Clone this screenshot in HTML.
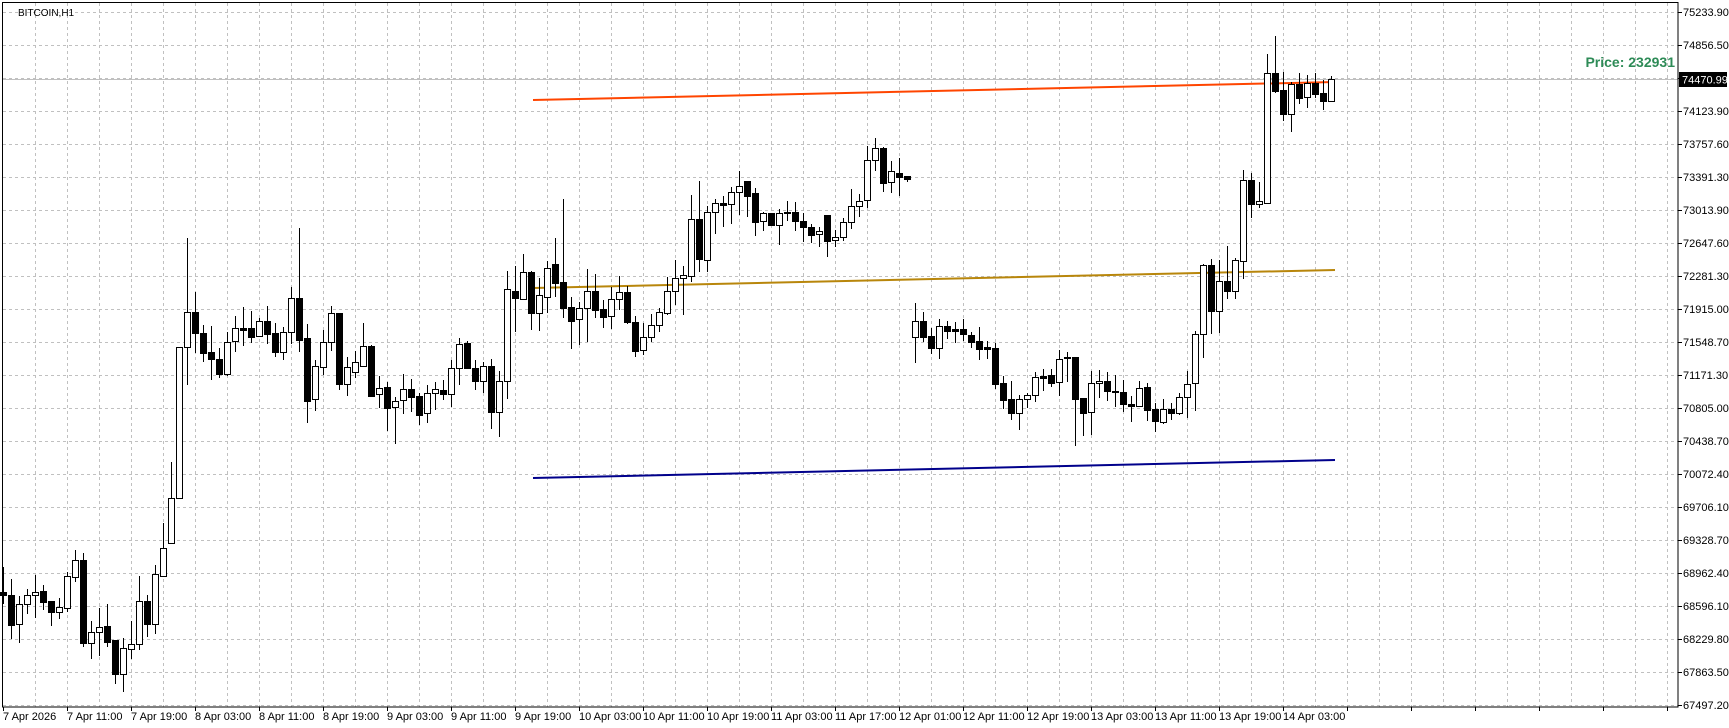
<!DOCTYPE html>
<html><head><meta charset="utf-8"><style>
html,body{margin:0;padding:0;background:#fff;}
svg{display:block;}
text{font-family:"Liberation Sans","DejaVu Sans",sans-serif;}
</style></head><body>
<svg id="c" width="1729" height="728" xmlns="http://www.w3.org/2000/svg" shape-rendering="crispEdges">
<g id="grid"></g>
<line x1="3" y1="79.5" x2="1678" y2="79.5" stroke="#c0c0c0" stroke-width="1"/>
<g id="lines" shape-rendering="auto">
<line x1="533" y1="100" x2="1335" y2="82" stroke="#ff4500" stroke-width="2"/>
<line x1="533" y1="288" x2="1335" y2="270" stroke="#b8860b" stroke-width="2"/>
<line x1="533" y1="478" x2="1335" y2="460" stroke="#00008b" stroke-width="2"/>
</g>
<g id="candles"></g>
<rect x="2.5" y="2.5" width="1675.5" height="704.5" fill="none" stroke="#000" stroke-width="1"/>
<text x="18" y="16" font-size="10" fill="#000">BITCOIN,H1</text>
<text x="1675" y="67" font-size="14" font-weight="bold" fill="#2e8b57" text-anchor="end">Price: 232931</text>
<g id="plab" font-size="11" fill="#000">
<text x="1683" y="16">75233.90</text>
<text x="1683" y="49">74856.50</text>
<text x="1683" y="115">74123.90</text>
<text x="1683" y="148">73757.60</text>
<text x="1683" y="181">73391.30</text>
<text x="1683" y="214">73013.90</text>
<text x="1683" y="247">72647.60</text>
<text x="1683" y="280">72281.30</text>
<text x="1683" y="313">71915.00</text>
<text x="1683" y="346">71548.70</text>
<text x="1683" y="379">71171.30</text>
<text x="1683" y="412">70805.00</text>
<text x="1683" y="445">70438.70</text>
<text x="1683" y="478">70072.40</text>
<text x="1683" y="511">69706.10</text>
<text x="1683" y="544">69328.70</text>
<text x="1683" y="577">68962.40</text>
<text x="1683" y="610">68596.10</text>
<text x="1683" y="643">68229.80</text>
<text x="1683" y="676">67863.50</text>
<text x="1683" y="709">67497.20</text>
</g>
<rect x="1679" y="72" width="48" height="15" fill="#000"/>
<text x="1682" y="83.5" font-size="11" fill="#fff">74470.99</text>
<g id="tlab" font-size="11" fill="#000">
<text x="3" y="720">7 Apr 2026</text>
<text x="67" y="720">7 Apr 11:00</text>
<text x="131" y="720">7 Apr 19:00</text>
<text x="195" y="720">8 Apr 03:00</text>
<text x="259" y="720">8 Apr 11:00</text>
<text x="323" y="720">8 Apr 19:00</text>
<text x="387" y="720">9 Apr 03:00</text>
<text x="451" y="720">9 Apr 11:00</text>
<text x="515" y="720">9 Apr 19:00</text>
<text x="579" y="720">10 Apr 03:00</text>
<text x="643" y="720">10 Apr 11:00</text>
<text x="707" y="720">10 Apr 19:00</text>
<text x="771" y="720">11 Apr 03:00</text>
<text x="835" y="720">11 Apr 17:00</text>
<text x="899" y="720">12 Apr 01:00</text>
<text x="963" y="720">12 Apr 11:00</text>
<text x="1027" y="720">12 Apr 19:00</text>
<text x="1091" y="720">13 Apr 03:00</text>
<text x="1155" y="720">13 Apr 11:00</text>
<text x="1219" y="720">13 Apr 19:00</text>
<text x="1283" y="720">14 Apr 03:00</text>
</g>
<g id="ticks"></g>
</svg>
<script>
var NS="http://www.w3.org/2000/svg";
function el(p,t,a){var e=document.createElementNS(NS,t);for(var k in a)e.setAttribute(k,a[k]);p.appendChild(e);return e;}
var g=document.getElementById("grid"),tk=document.getElementById("ticks");
for(var x=35;x<1678;x+=32)el(g,"line",{x1:x+.5,y1:3,x2:x+.5,y2:707,stroke:"#c0c0c0","stroke-dasharray":"3,3"});
for(var i=0;i<22;i++){var y=12+33*i;el(g,"line",{x1:3,y1:y+.5,x2:1678,y2:y+.5,stroke:"#c0c0c0","stroke-dasharray":"3,3"});
 el(tk,"line",{x1:1678,y1:y+.5,x2:1682,y2:y+.5,stroke:"#000"});}
for(var x=3;x<1678;x+=64)el(tk,"line",{x1:x+.5,y1:707,x2:x+.5,y2:711,stroke:"#000"});
var D=[[567,592,595,603,1],[579,595,625,638,1],[596,604,624,642,0],[589,595,604,613,0],[575,592,595,617,0],[585,591,602,609,1],[601,601,612,625,1],[598,607,612,618,0],[572,576,608,611,0],[550,560,577,581,0],
[553,560,643,646,1],[621,632,643,658,0],[608,627,632,655,0],[604,626,642,646,1],[640,640,674,683,1],[638,648,674,691,0],[621,644,649,658,0],[576,601,644,649,0],[595,601,624,636,1],[565,574,624,633,0],
[523,548,576,576,0],[462,498,543,543,0],[347,347,498,498,0],[238,312,347,384,0],[292,312,333,352,1],[325,333,353,361,1],[326,352,359,379,1],[348,359,374,377,1],[332,342,374,375,0],[316,328,341,351,0],
[307,328,330,345,1],[311,328,337,342,1],[318,321,336,336,0],[306,321,334,343,1],[323,333,352,356,1],[327,332,352,359,0],[287,298,332,343,0],[228,298,340,351,1],[324,338,401,422,1],[360,366,399,410,0],
[330,342,367,374,0],[306,313,342,350,0],[313,313,384,389,1],[357,367,384,395,0],[351,362,372,377,0],[323,346,366,366,0],[345,346,396,396,1],[376,388,394,407,0],[382,387,408,430,1],[397,401,407,443,0],
[374,389,400,413,0],[379,389,397,411,1],[393,396,415,424,1],[385,393,413,422,0],[382,389,393,409,0],[380,390,394,399,1],[360,368,394,406,0],[338,344,368,384,0],[341,343,368,368,1],[360,368,381,389,1],
[362,366,381,392,0],[359,366,412,428,1],[371,381,412,436,0],[271,289,381,398,0],[266,291,298,331,1],[254,272,299,299,0],[271,272,313,329,1],[278,295,313,330,0],[261,268,297,312,0],[238,264,283,296,1],
[199,282,308,317,1],[297,307,321,348,1],[302,308,319,344,0],[269,291,308,341,0],[274,291,310,317,1],[300,309,317,327,1],[287,299,316,328,0],[276,292,299,309,0],[286,292,322,323,1],[316,322,351,356,1],
[323,337,350,354,0],[314,325,337,341,0],[308,312,325,331,0],[277,291,313,314,0],[260,278,291,304,0],[266,275,278,314,0],[195,219,276,281,0],[181,219,259,271,1],[206,212,260,271,0],[199,203,212,233,0],
[196,203,205,226,1],[187,192,204,223,0],[171,186,192,214,0],[181,181,196,216,1],[188,193,222,235,1],[212,213,221,230,0],[213,213,225,225,1],[209,213,225,244,0],[201,212,213,220,1],[202,212,221,230,1],
[213,221,227,241,1],[224,227,235,242,1],[227,231,234,246,0],[215,215,241,256,1],[230,237,240,246,0],[218,222,237,240,0],[189,206,222,228,0],[194,201,206,216,0],[146,160,200,207,0],[138,148,160,170,0],
[147,148,183,191,1],[161,171,182,192,0],[158,173,177,195,1],[176,176,179,181,1],
[303,321,337,362,0],[312,321,337,341,1],[328,336,348,353,1],[319,326,348,358,0],[321,326,331,338,1],[322,329,331,342,1],[319,329,334,340,1],[332,335,342,347,1],[327,341,349,359,1],[341,347,349,358,1],
[343,348,384,388,1],[376,383,400,408,1],[381,399,413,419,1],[395,399,413,429,0],[393,395,399,407,0],[372,377,395,401,0],[369,376,378,390,1],[369,375,383,386,1],[350,359,382,395,0],[352,357,358,381,1],
[357,357,399,445,1],[398,398,413,435,1],[371,383,412,434,0],[370,381,383,397,0],[372,381,391,400,1],[375,391,392,406,1],[380,392,404,411,1],[396,404,406,421,1],[381,388,406,406,0],[383,387,410,420,1],
[403,409,421,431,1],[399,409,422,423,0],[403,409,413,419,1],[393,397,413,414,0],[371,384,397,417,0],[331,334,383,410,0],[264,265,334,357,0],[259,265,311,333,1],[260,281,311,332,0],[246,281,291,298,1],
[258,260,291,298,0],[170,180,261,278,0],[173,180,204,217,1],[182,201,204,207,0],[54,73,203,203,0],[36,73,91,92,1],[72,90,114,120,1],[82,84,114,131,0],[73,84,98,103,1],[75,83,97,107,0],
[73,83,94,97,1],[80,93,101,109,1],[76,79,101,101,0]];
var cg=document.getElementById("candles");
for(var k=0;k<D.length;k++){var d=D[k],cx=3.5+8*k;
 el(cg,"line",{x1:cx,y1:d[0],x2:cx,y2:d[3]+1,stroke:"#000"});
 var h=Math.max(d[2]-d[1],1);
 el(cg,"rect",{x:cx-3,y:d[1]+.5,width:6,height:h,fill:d[4]?"#000":"#fff",stroke:"#000","stroke-width":1});}
</script>
</body></html>
